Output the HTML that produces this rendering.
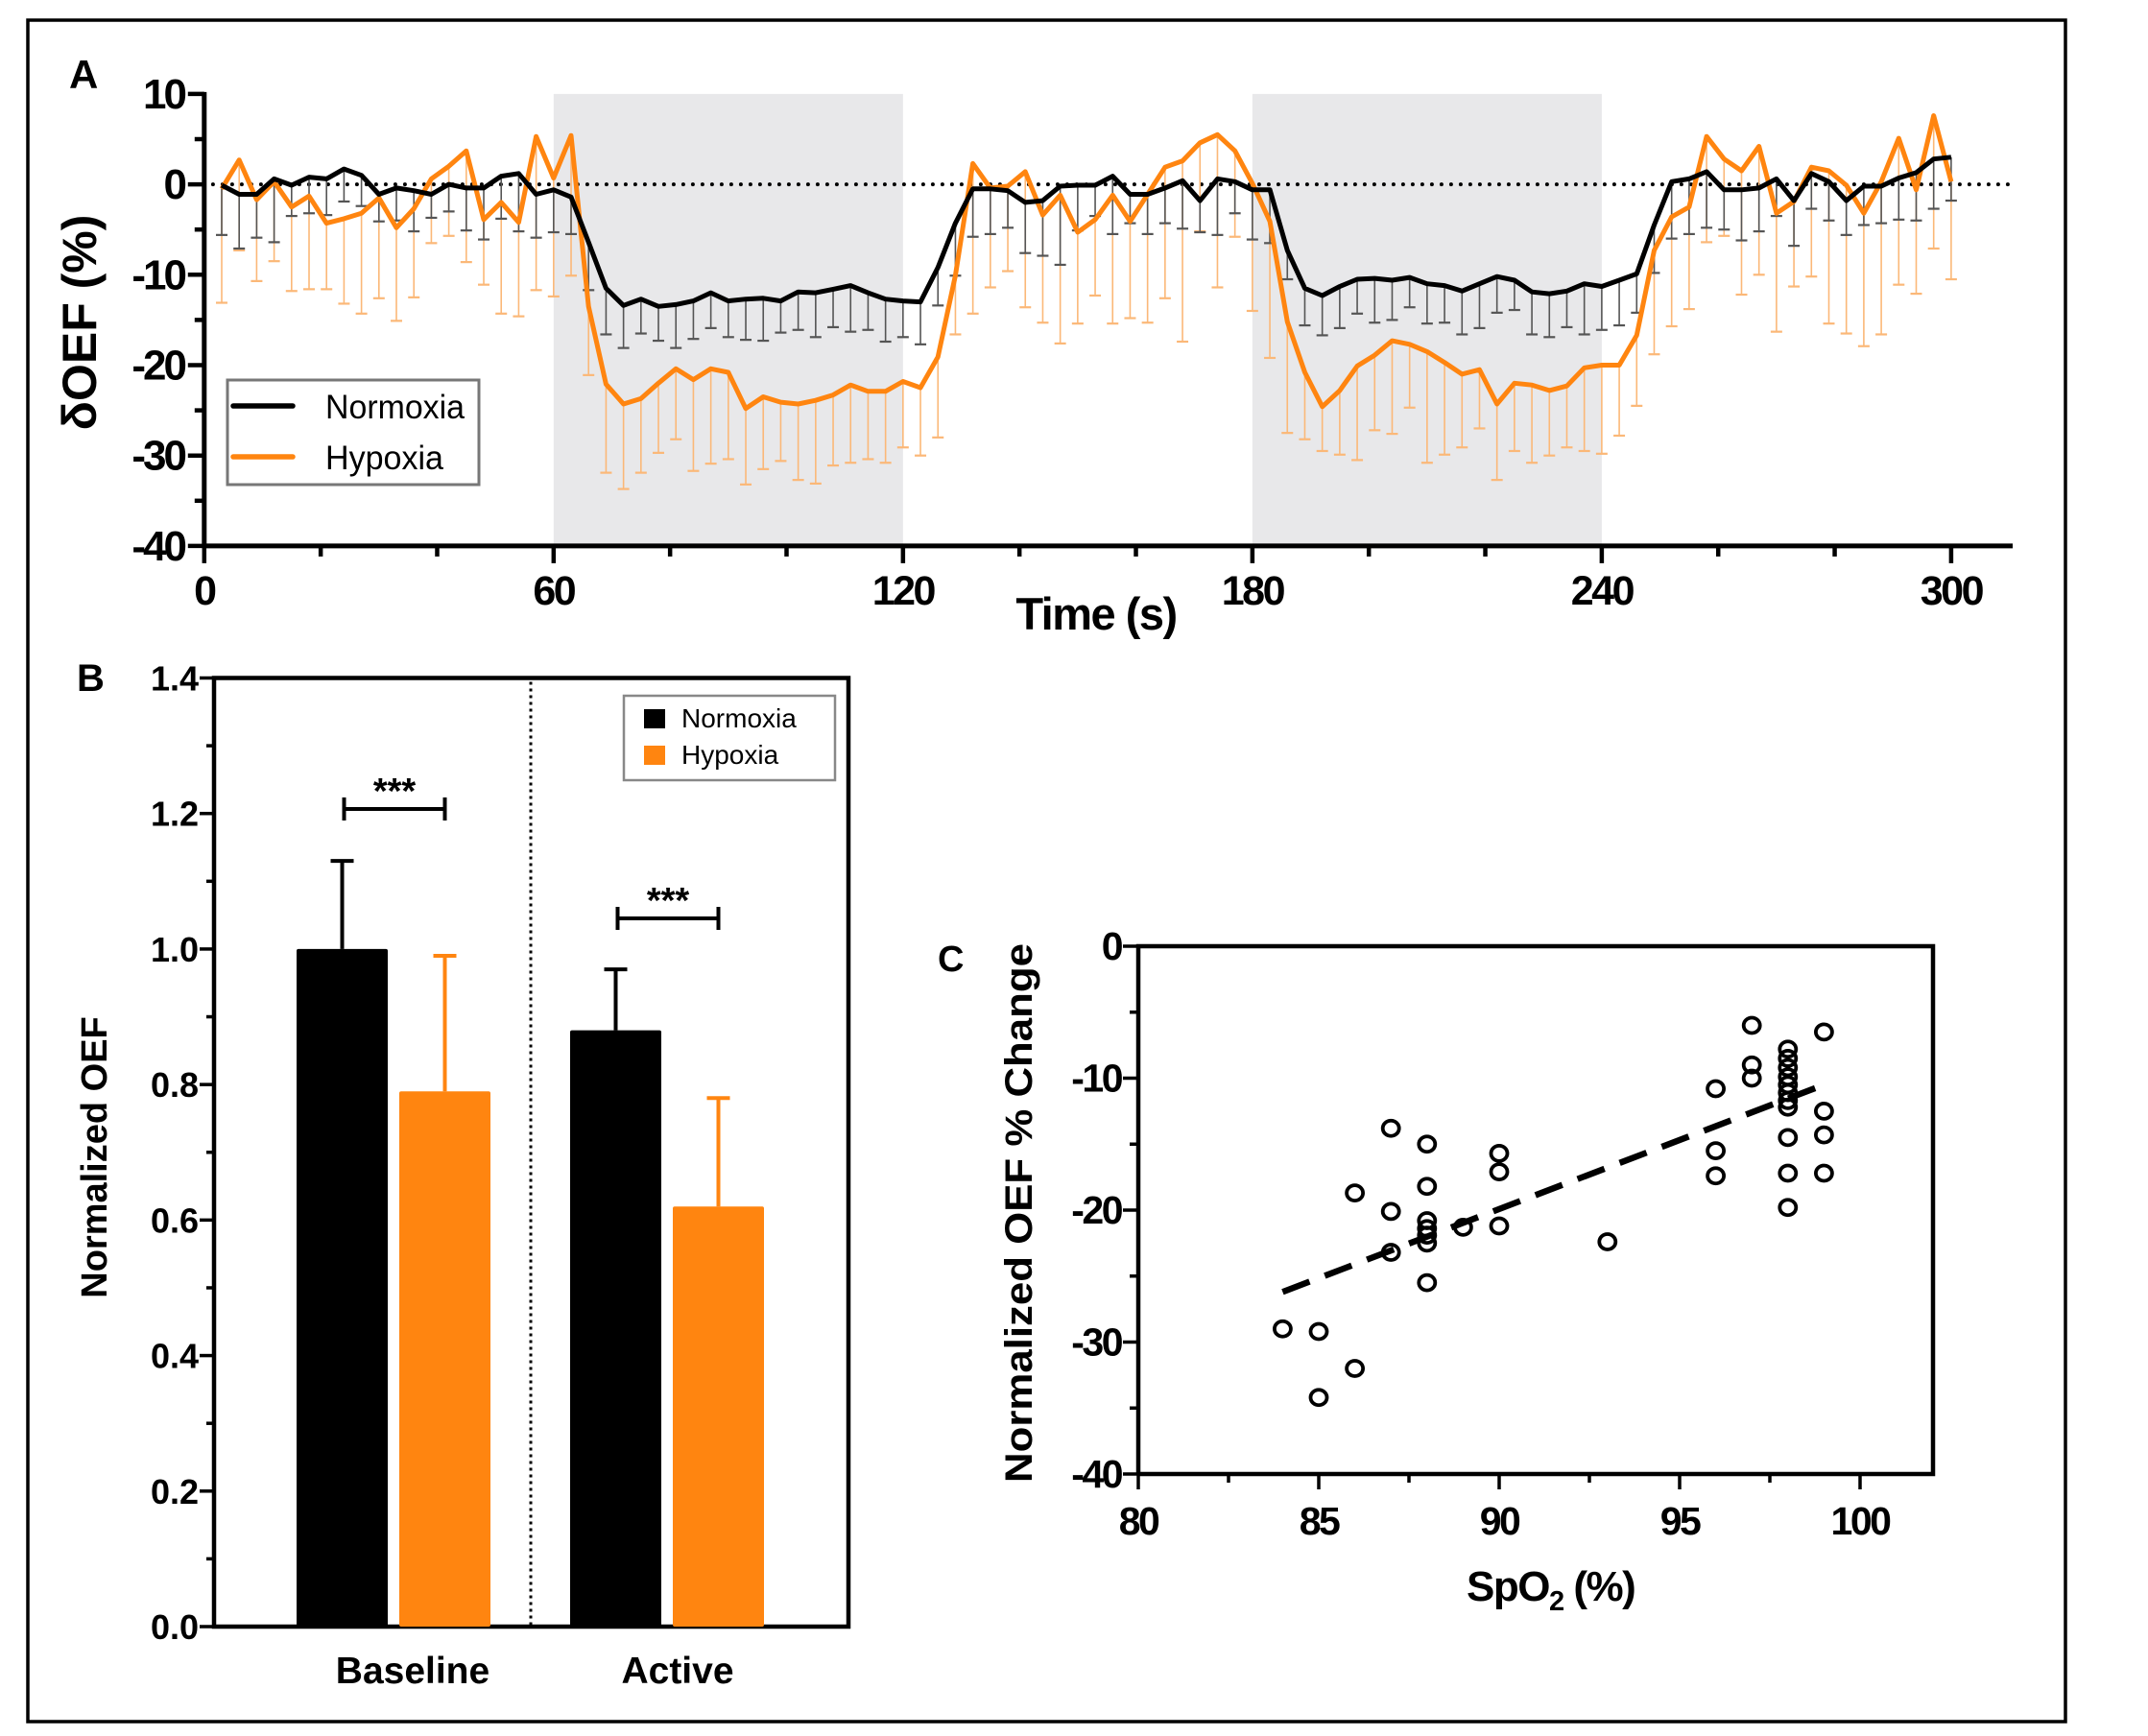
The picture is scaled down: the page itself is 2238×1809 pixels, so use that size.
<!DOCTYPE html>
<html><head><meta charset="utf-8"><style>
html,body{margin:0;padding:0;background:#fff;}
svg{display:block;font-family:"Liberation Sans",sans-serif;}
</style></head><body>
<svg id="fig" xmlns="http://www.w3.org/2000/svg" width="2238" height="1809" viewBox="0 0 2238 1809">
<rect x="29" y="21" width="2123" height="1773" fill="#fff" stroke="#000" stroke-width="3.5"/>
<g id="panelA"></g>
<g id="panelB"></g>
<g id="panelC"></g>
</svg>
<script>
// ---------- Panel A data ----------
const timeStart = 3, timeStep = 3;
const normoxiaMean = [-0.1,-1.1,-1.1,0.6,-0.1,0.8,0.6,1.7,1.0,-1.1,-0.4,-0.7,-1.1,0,-0.4,-0.4,0.9,1.2,-1.1,-0.6,-1.4,
-6.4,-11.5,-13.4,-12.7,-13.5,-13.3,-12.9,-12.0,-12.9,-12.7,-12.6,-12.9,-11.9,-12.0,-11.6,-11.2,-12.0,-12.7,-12.9,-13.0,-9.2,
-4.3,-0.5,-0.5,-0.7,-2.0,-1.8,-0.2,-0.1,-0.1,0.9,-1.1,
-1.1,-0.4,0.4,-1.8,0.6,0.3,-0.6,-0.6,-7.3,-11.5,-12.3,-11.3,-10.5,-10.4,-10.6,-10.3,-11.0,-11.2,-11.8,-11.0,-10.2,-10.6,-11.9,-12.1,-11.8,-11.0,-11.3,-10.6,-9.9,-4.5,0.3,0.6,1.4,-0.6,-0.6,-0.4,0.6,-1.8,1.2,0.3,-1.8,-0.2,-0.2,0.7,1.3,2.8,3.0];
const normoxiaSD = [5.5,6,4.8,7,3.4,4,4,3.6,3.4,3,3.6,4.5,2.6,3,4.7,5.7,4.7,6.4,4.8,4.7,4.1,
5.3,5.1,4.7,3.8,3.8,4.8,4.2,3.9,4,4.5,4.7,3.5,4.2,4.9,4.2,5.1,4.1,4.7,4,4.7,4.2,
5.8,5.3,5,4.1,5.6,6.1,8.7,5,3.4,6.4,3.2,
4.4,3.9,5.3,3.5,6.2,3.5,5.5,5.9,3.2,4.1,4.4,4.6,3.8,4.9,4.4,3.3,4.4,4.1,4.8,4.9,4,3.3,4.7,4.8,4,5.6,4.8,5,4.3,5.3,6.3,6.1,6.2,4.4,5.6,4.8,4.1,5,3.9,4.3,3.8,4.3,4.1,4.6,5.3,5.5,4.8];
const hypoxiaMean = [-0.5,2.7,-1.7,0.3,-2.5,-1.3,-4.3,-3.8,-3.2,-1.5,-4.8,-2.7,0.6,2.0,3.7,-3.9,-2.0,-4.2,5.3,0.7,5.4,
-13.5,-22.1,-24.3,-23.7,-22.0,-20.4,-21.6,-20.4,-20.8,-24.8,-23.5,-24.1,-24.3,-23.9,-23.3,-22.2,-22.9,-22.9,-21.8,-22.5,-19.1,
-10.1,2.3,-0.4,-0.2,1.4,-3.4,-1.2,-5.3,-3.9,-1.2,-4.1,
-1.1,1.9,2.6,4.6,5.5,3.7,0.1,-4.1,-15.2,-20.8,-24.6,-22.8,-20.1,-18.9,-17.3,-17.7,-18.5,-19.7,-21.0,-20.5,-24.3,-22.0,-22.2,-22.8,-22.3,-20.3,-20.0,-20.0,-16.7,-7.3,-3.6,-2.5,5.3,2.8,1.5,4.2,-3.2,-1.9,1.9,1.5,-0.1,-3.2,0.3,5.1,-0.6,7.6,0.3];
const hypoxiaSD = [12.6,10,9,8.8,9.3,10.3,7.3,9.4,11.1,11.1,10.3,9.8,7.1,7.7,12.3,7.2,12.3,10.4,17,13.1,15.5,
7.6,9.8,9.4,8.2,7.7,7.8,10.1,10.5,9.6,8.4,8,6.5,8.4,9.2,7.8,8.6,7.5,7.9,7.3,7.5,8.9,
6.5,16.6,11,9.4,15,11.9,16.4,10.1,8.4,14.2,10.7,
14.2,14.5,20,9.8,16.9,9.5,14.1,15.1,12.3,7.4,4.9,7.1,10.4,8.3,10.3,7,12.3,10.2,8.1,6.5,8.4,7.5,8.6,7.2,6.8,9.2,9.8,7.8,7.8,11.5,12.1,11.3,11.7,8.5,13.7,14.2,13.1,9.4,12.1,16.9,16.4,14.7,16.9,16.2,11.5,14.7,10.8];
const stimulusBlocks = [[60,120],[180,240]];
const aYTicks = [10,0,-10,-20,-30,-40];
const aXTicks = [0,60,120,180,240,300];

// ---------- Panel B data ----------
const bGroups = ["Baseline","Active"];
const bNormoxia = [1.0,0.88];
const bNormoxiaErr = [0.13,0.09];
const bHypoxia = [0.79,0.62];
const bHypoxiaErr = [0.2,0.16];
const bYTicks = ["0.0","0.2","0.4","0.6","0.8","1.0","1.2","1.4"];

// ---------- Panel C data ----------
const cSpO2 = [84,85,85,86,86,87,87,87,88,88,88,88,88,88,88,89,90,90,90,93,96,96,96,97,97,97,98,98,98,98,98,98,98,98,98,98,98,99,99,99,99];
const cOEF = [-29.0,-29.2,-34.2,-18.7,-32.0,-13.8,-20.1,-23.2,-15.0,-18.2,-20.8,-21.4,-21.9,-22.5,-25.5,-21.3,-15.7,-17.1,-21.2,-22.4,-10.8,-15.5,-17.4,-6.0,-9.0,-10.0,-7.8,-8.5,-9.2,-9.9,-10.5,-11.1,-11.7,-12.2,-14.5,-17.2,-19.8,-6.5,-12.5,-14.3,-17.2];
const cTrendX = [84,99];
const cTrendY = [-26.2,-10.5];
const cXTicks = [80,85,90,95,100];
const cYTicks = [0,-10,-20,-30,-40];

const NS = "http://www.w3.org/2000/svg";
function mk(parent, tag, attrs, text){
  const e = document.createElementNS(NS, tag);
  for (const k in attrs) e.setAttribute(k, attrs[k]);
  if (text !== undefined) e.textContent = text;
  parent.appendChild(e);
  return e;
}
const BOLD = {"font-weight":"bold","font-family":"Liberation Sans, sans-serif"};

// ===== Panel A =====
(function(){
  const g = document.getElementById('panelA');
  const X0 = 212.8, PXS = 6.067, Y0 = 192.1, PXU = 9.42;
  const ax = t => X0 + t*PXS;
  const ay = v => Y0 - v*PXU;
  stimulusBlocks.forEach(b=>{
    const r = mk(g,'rect',{x:ax(b[0]),y:ay(10),width:ax(b[1])-ax(b[0]),height:ay(-40)-ay(10),fill:'#e8e8ea'});
    
    
  });
  const zl = mk(g,'line',{x1:ax(1.5),x2:2097,y1:ay(0),y2:ay(0),stroke:'#000','stroke-width':4,'stroke-dasharray':'0 10','stroke-linecap':'round'});
  
  
  function errs(mean, sd, color, w, name){
    mean.forEach((m,i)=>{
      const t = timeStart + i*timeStep;
      const x = ax(t);
      const l = mk(g,'line',{x1:x,x2:x,y1:ay(m),y2:ay(m-sd[i]),stroke:color,'stroke-width':w});
      
      
      const c = mk(g,'line',{x1:x-6,x2:x+6,y1:ay(m-sd[i]),y2:ay(m-sd[i]),stroke:color,'stroke-width':2.2});
      
      
    });
  }
  errs(hypoxiaMean, hypoxiaSD, '#fbb878', 1.6, 'hypoxia-error-bar');
  errs(normoxiaMean, normoxiaSD, '#555', 1.6, 'normoxia-error-bar');
  function line(mean, color, name){
    const pts = mean.map((m,i)=>ax(timeStart+i*timeStep).toFixed(1)+','+ay(m).toFixed(1)).join(' ');
    const p = mk(g,'polyline',{points:pts,fill:'none',stroke:color,'stroke-width':5,'stroke-linejoin':'round'});
    
    
  }
  line(hypoxiaMean,'#ff8510','hypoxia-line');
  line(normoxiaMean,'#000','normoxia-line');
  const ya = mk(g,'line',{x1:X0,x2:X0,y1:ay(10)-2,y2:ay(-40)+2,stroke:'#000','stroke-width':5});
  
  
  const xa = mk(g,'line',{x1:X0-2,x2:2097,y1:ay(-40),y2:ay(-40),stroke:'#000','stroke-width':5});
  
  
  for (let v=10; v>=-40; v-=5){
    const major = (v%10===0);
    const t = mk(g,'line',{x1:X0-(major?17:10),x2:X0,y1:ay(v),y2:ay(v),stroke:'#000','stroke-width':4.5});
    
    
  }
  aYTicks.forEach(v=>{
    const t = mk(g,'text',Object.assign({x:192,y:ay(v)+15,'text-anchor':'end','font-size':44,'letter-spacing':-3},BOLD), String(v));
    
    
  });
  for (let s=0; s<=300; s+=20){
    const major = (s%60===0);
    const t = mk(g,'line',{x1:ax(s),x2:ax(s),y1:ay(-40),y2:ay(-40)+(major?18:11),stroke:'#000','stroke-width':4.5});
    
    
  }
  aXTicks.forEach(s=>{
    const t = mk(g,'text',Object.assign({x:ax(s),y:630,'text-anchor':'middle','font-size':43,'letter-spacing':-2.5},BOLD), String(s));
    
    
  });
  const xt = mk(g,'text',Object.assign({x:1142,y:656,'text-anchor':'middle','font-size':47,'letter-spacing':-1.5},BOLD),'Time (s)');
  
  
  const yt = mk(g,'text',Object.assign({x:0,y:0,'text-anchor':'middle','font-size':50,transform:'translate(100,336) rotate(-90)'},BOLD),'δOEF (%)');
  
  
  const lbl = mk(g,'text',Object.assign({x:72,y:92,'font-size':42},BOLD),'A');
  
  
  const lb = mk(g,'rect',{x:237,y:396,width:262,height:109,fill:'#fff',stroke:'#777','stroke-width':3});
  
  
  const l1 = mk(g,'line',{x1:243,x2:305,y1:423,y2:423,stroke:'#000','stroke-width':5.5,'stroke-linecap':'round'});
  
  
  const l2 = mk(g,'line',{x1:243,x2:305,y1:476,y2:476,stroke:'#ff8510','stroke-width':5.5,'stroke-linecap':'round'});
  
  
  const t1 = mk(g,'text',{x:339,y:436,'font-size':35,textLength:145,lengthAdjust:'spacingAndGlyphs'},'Normoxia');
  
  
  const t2 = mk(g,'text',{x:339,y:489,'font-size':35,textLength:123,lengthAdjust:'spacingAndGlyphs'},'Hypoxia');
  
  
})();

// ===== Panel B =====
(function(){
  const g = document.getElementById('panelB');
  const X0 = 223, XR = 884, YB = 1695, PX = 706.5;
  const by = v => YB - v/1.4*(YB-PX);
  const groupCenter = [410, 695];
  const labelCenter = [430, 706];
  const barW = 95, gap = 12;
  const frame = mk(g,'rect',{x:X0,y:by(1.4),width:XR-X0,height:YB-by(1.4),fill:'none',stroke:'#000','stroke-width':4.5});
  
  
  const dv = mk(g,'line',{x1:553,x2:553,y1:by(1.4)+4,y2:YB,stroke:'#000','stroke-width':3,'stroke-dasharray':'3 4'});
  
  
  bGroups.forEach((name,i)=>{
    const c = groupCenter[i];
    const xn = c - gap/2 - barW, xh = c + gap/2;
    const en = mk(g,'line',{x1:xn+barW/2,x2:xn+barW/2,y1:by(bNormoxia[i]),y2:by(bNormoxia[i]+bNormoxiaErr[i]),stroke:'#000','stroke-width':4});
    
    
    const enc = mk(g,'line',{x1:xn+barW/2-12,x2:xn+barW/2+12,y1:by(bNormoxia[i]+bNormoxiaErr[i]),y2:by(bNormoxia[i]+bNormoxiaErr[i]),stroke:'#000','stroke-width':4});
    
    
    const eh = mk(g,'line',{x1:xh+barW/2,x2:xh+barW/2,y1:by(bHypoxia[i]),y2:by(bHypoxia[i]+bHypoxiaErr[i]),stroke:'#ff8510','stroke-width':4});
    
    
    const ehc = mk(g,'line',{x1:xh+barW/2-12,x2:xh+barW/2+12,y1:by(bHypoxia[i]+bHypoxiaErr[i]),y2:by(bHypoxia[i]+bHypoxiaErr[i]),stroke:'#ff8510','stroke-width':4});
    
    
    const bn = mk(g,'rect',{x:xn,y:by(bNormoxia[i]),width:barW,height:YB-by(bNormoxia[i]),fill:'#000',rx:2});
    
    
    const bh = mk(g,'rect',{x:xh,y:by(bHypoxia[i]),width:barW,height:YB-by(bHypoxia[i]),fill:'#ff8510',rx:2});
    
    
    const sy = i===0 ? 843 : 957;
    const sx1 = xn+barW/2+2, sx2 = xh+barW/2;
    const s = mk(g,'path',{d:`M${sx1},${sy-12}V${sy+12}M${sx1},${sy}H${sx2}M${sx2},${sy-12}V${sy+12}`,stroke:'#000','stroke-width':4,fill:'none'});
    
    
    const st = mk(g,'text',Object.assign({x:(sx1+sx2)/2,y:sy-6,'text-anchor':'middle','font-size':38},BOLD),'***');
    
    
    const gl = mk(g,'text',Object.assign({x:labelCenter[i],y:1754,'text-anchor':'middle','font-size':39},BOLD),name);
    
    
  });
  for (let k=0;k<=14;k++){
    const v = k*0.1, major = (k%2===0);
    const t = mk(g,'line',{x1:X0-(major?15:8),x2:X0,y1:by(v),y2:by(v),stroke:'#000','stroke-width':3.5});
    
    
  }
  bYTicks.forEach((s,k)=>{
    const t = mk(g,'text',Object.assign({x:207,y:by(k*0.2)+13,'text-anchor':'end','font-size':36},BOLD),s);
    
    
  });
  const yt = mk(g,'text',Object.assign({x:0,y:0,'text-anchor':'middle','font-size':38,transform:'translate(111,1206) rotate(-90)'},BOLD),'Normalized OEF');
  
  
  const lbl = mk(g,'text',Object.assign({x:80,y:720,'font-size':40},BOLD),'B');
  
  
  const lb = mk(g,'rect',{x:650,y:725,width:220,height:88,fill:'#fff',stroke:'#888','stroke-width':2.5});
  
  
  const s1 = mk(g,'rect',{x:671,y:739,width:22,height:20,fill:'#000'});
  
  
  const s2 = mk(g,'rect',{x:671,y:777,width:22,height:20,fill:'#ff8510'});
  
  
  const t1 = mk(g,'text',{x:710,y:758,'font-size':28},'Normoxia');
  
  
  const t2 = mk(g,'text',{x:710,y:796,'font-size':28},'Hypoxia');
  
  
})();

// ===== Panel C =====
(function(){
  const g = document.getElementById('panelC');
  const X0 = 1186, XR = 2014, Y0 = 986, YB = 1536;
  const cx = s => X0 + (s-80)*37.6;
  const cy = v => Y0 - v*13.75;
  const frame = mk(g,'path',{d:`M${X0},${YB}V${Y0}H${XR}V${YB}H${X0}`,fill:'none',stroke:'#000','stroke-width':4.5});
  
  
  for (let v=0; v>=-40; v-=5){
    const major = (v%10===0);
    const t = mk(g,'line',{x1:X0-(major?16:9),x2:X0,y1:cy(v),y2:cy(v),stroke:'#000','stroke-width':3.5});
    
    
  }
  for (let s=80; s<=100; s+=2.5){
    const major = (s%5===0);
    const t = mk(g,'line',{x1:cx(s),x2:cx(s),y1:YB,y2:YB+(major?16:9),stroke:'#000','stroke-width':3.5});
    
    
  }
  cYTicks.forEach(v=>{
    const t = mk(g,'text',Object.assign({x:1168,y:cy(v)+14,'text-anchor':'end','font-size':41,'letter-spacing':-2.5},BOLD),String(v));
    
    
  });
  cXTicks.forEach(s=>{
    const t = mk(g,'text',Object.assign({x:cx(s),y:1599,'text-anchor':'middle','font-size':41,'letter-spacing':-2.5},BOLD),String(s));
    
    
  });
  const tr = mk(g,'line',{x1:cx(cTrendX[0]),y1:cy(cTrendY[0]),x2:cx(cTrendX[1]),y2:cy(cTrendY[1]),stroke:'#000','stroke-width':6.5,'stroke-dasharray':'30 17'});
  
  
  cSpO2.forEach((s,i)=>{
    const c = mk(g,'ellipse',{cx:cx(s),cy:cy(cOEF[i]),rx:8.5,ry:8,fill:'none',stroke:'#000','stroke-width':3.8});
    
    
  });
  const xt = mk(g,'text',Object.assign({x:1528,y:1668,'font-size':44,'letter-spacing':-1.5},BOLD));
  
  
  mk(xt,'tspan',{},'SpO');
  mk(xt,'tspan',{'font-size':29,dy:10},'2');
  mk(xt,'tspan',{dy:-10},' (%)');
  const yt = mk(g,'text',Object.assign({x:0,y:0,'text-anchor':'middle','font-size':40,transform:'translate(1075,1264) rotate(-90)',textLength:562,lengthAdjust:'spacingAndGlyphs'},BOLD),'Normalized OEF % Change');
  
  
  const lbl = mk(g,'text',Object.assign({x:977,y:1012,'font-size':38},BOLD),'C');
  
  
})();
</script>
</body></html>
